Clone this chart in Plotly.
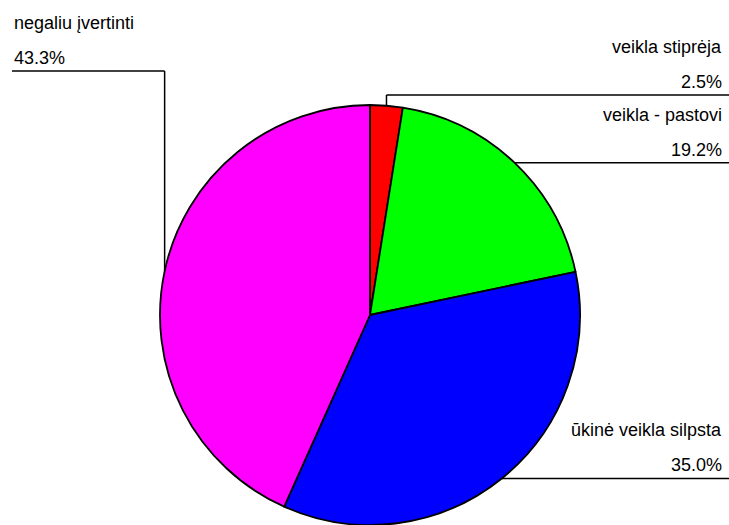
import math
import plotly.graph_objects as go

# data
labels = ["veikla stiprėja", "veikla - pastovi", "ūkinė veikla silpsta", "negaliu įvertinti"]
values = [2.5, 19.2, 35.0, 43.3]
colors = ["#FF0000", "#00FF00", "#0000FF", "#FF00FF"]

W, H = 729, 525
CX, CY, R = 370, 315, 210  # pie centre / radius in pixels
FS = 18


def px(x):
    return x / W


def py(y):
    return 1 - y / H


fig = go.Figure()
fig.add_trace(go.Pie(
    values=values,
    labels=labels,
    sort=False,
    direction="clockwise",
    rotation=0,
    textinfo="none",
    hoverinfo="label+percent",
    showlegend=False,
    marker=dict(colors=colors, line=dict(color="black", width=1.8)),
    domain=dict(x=[px(CX - R), px(CX + R)], y=[py(CY + R), py(CY - R)]),
))

# label layout: (side, line y, elbow?)
label_pos = [
    ("right", 95, True),
    ("right", None, False),
    ("right", None, False),
    ("left", 71, True),
]

total = sum(values)
cum = 0
shapes = []
annotations = []
for lab, v, (side, ly, elbow) in zip(labels, values, label_pos):
    mid = (cum + v / 2) / total * 2 * math.pi
    cum += v
    ax = CX + R * math.sin(mid)
    ay = CY - R * math.cos(mid)
    if ly is None:
        ly = ay
    line = dict(type="line", xref="paper", yref="paper",
                line=dict(color="black", width=1.5))
    if elbow:
        shapes.append(dict(line, x0=px(ax), y0=py(ay), x1=px(ax), y1=py(ly)))
    if side == "right":
        shapes.append(dict(line, x0=px(ax), y0=py(ly), x1=1, y1=py(ly)))
        tx, xa = px(724), "right"
    else:
        shapes.append(dict(line, x0=px(12), y0=py(ly), x1=px(ax), y1=py(ly)))
        tx, xa = px(12), "left"
    pct = f"{v / total * 100:.1f}%"
    for txt, dy in ((lab, -48), (pct, -13)):
        annotations.append(dict(
            text=txt, x=tx, y=py(ly + dy), xref="paper", yref="paper",
            xanchor=xa, yanchor="middle", showarrow=False,
            font=dict(size=FS, color="black"),
        ))

fig.update_layout(
    width=W, height=H,
    margin=dict(l=0, r=0, t=0, b=0),
    paper_bgcolor="white",
    plot_bgcolor="white",
    font=dict(family="Liberation Sans, Arial, sans-serif"),
    shapes=shapes,
    annotations=annotations,
)

fig.write_html("out.html", config={"displayModeBar": False},
               post_script="document.body.style.margin='0';")
